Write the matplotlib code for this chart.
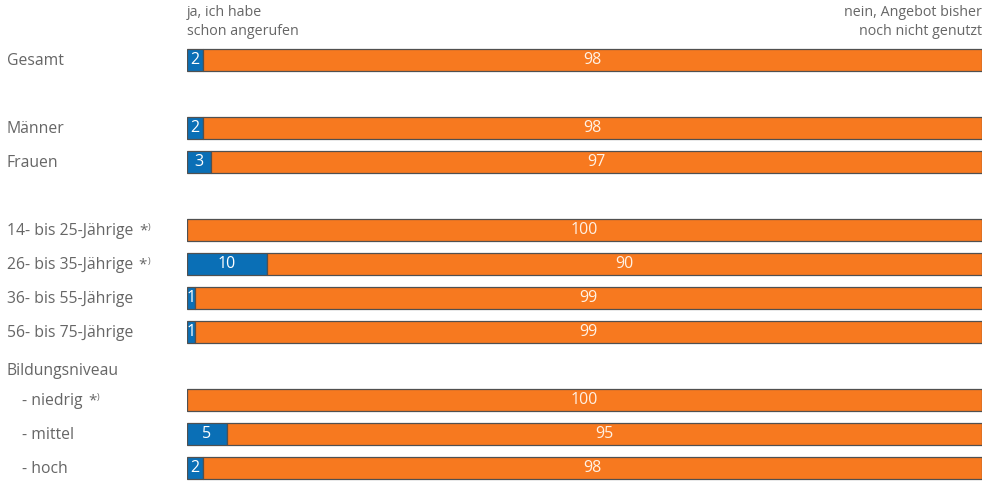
import matplotlib.pyplot as plt

# row labels, slot positions (gaps between groups) and shares in percent
labels = ["Gesamt", "Männer", "Frauen", "14- bis 25-Jährige", "26- bis 35-Jährige",
          "36- bis 55-Jährige", "56- bis 75-Jährige", "- niedrig", "- mittel", "- hoch"]
slots = [0, 2, 3, 5, 6, 7, 8, 10, 11, 12]
footnote = [False, False, False, True, True, False, False, True, False, False]
ja = [2, 2, 3, 0, 10, 1, 1, 0, 5, 2]
nein = [98, 98, 97, 100, 90, 99, 99, 100, 95, 98]

BLUE = "#0a6fb6"
ORANGE = "#f7791f"
GREY = "#666666"

plt.rcParams['font.family'] = ['Open Sans', 'DejaVu Sans']

fig = plt.figure(figsize=(9.88, 4.82), dpi=100)
ax = fig.add_axes([187 / 988, 0, (982 - 187) / 988, 1])
ax.set_xlim(0, 100)
ax.set_ylim(422 / 34, -60 / 34)
ax.axis('off')

h = 0.64
ax.barh(slots, ja, height=h, color=BLUE, edgecolor="#505050", linewidth=0.9)
ax.barh(slots, nein, left=ja, height=h, color=ORANGE, edgecolor="#505050", linewidth=0.9)

for y, a, b in zip(slots, ja, nein):
    if a > 0:
        ax.text(a / 2, y, str(a), ha='center', va='center', color='white', fontsize=11.5)
    if b > 0:
        ax.text(a + b / 2, y, str(b), ha='center', va='center', color='#fff1e4', fontsize=11.5)

# category labels at the left edge
for lab, y, fn in zip(labels, slots, footnote):
    x = 7 / 988 if not lab.startswith("-") else 22 / 988
    t = fig.text(x, 1 - (61 + 34 * y) / 482, lab, ha='left', va='center',
                 fontsize=11.3, color=GREY)
    if fn:
        star = ax.annotate("*", xy=(1, 1), xycoords=t, xytext=(4, 0), textcoords='offset points',
                           ha='left', va='top', fontsize=11, color=GREY)
        ax.annotate(")", xy=(1, 1), xycoords=star, xytext=(0.3, 0), textcoords='offset points',
                    ha='left', va='top', fontsize=6.5, color=GREY)

fig.text(7 / 988, 1 - 371 / 482, "Bildungsniveau", ha='left', va='center',
         fontsize=11.3, color=GREY)

# column headers
fig.text(187 / 988, 1 - 22 / 482, "ja, ich habe\nschon angerufen", ha='left', va='center',
         fontsize=10.3, color=GREY, linespacing=1.3)
fig.text(982 / 988, 1 - 22 / 482, "nein, Angebot bisher\nnoch nicht genutzt", ha='right',
         va='center', fontsize=10.3, color=GREY, linespacing=1.3, multialignment='right')

fig.savefig("out.png", dpi=100, facecolor='white')
